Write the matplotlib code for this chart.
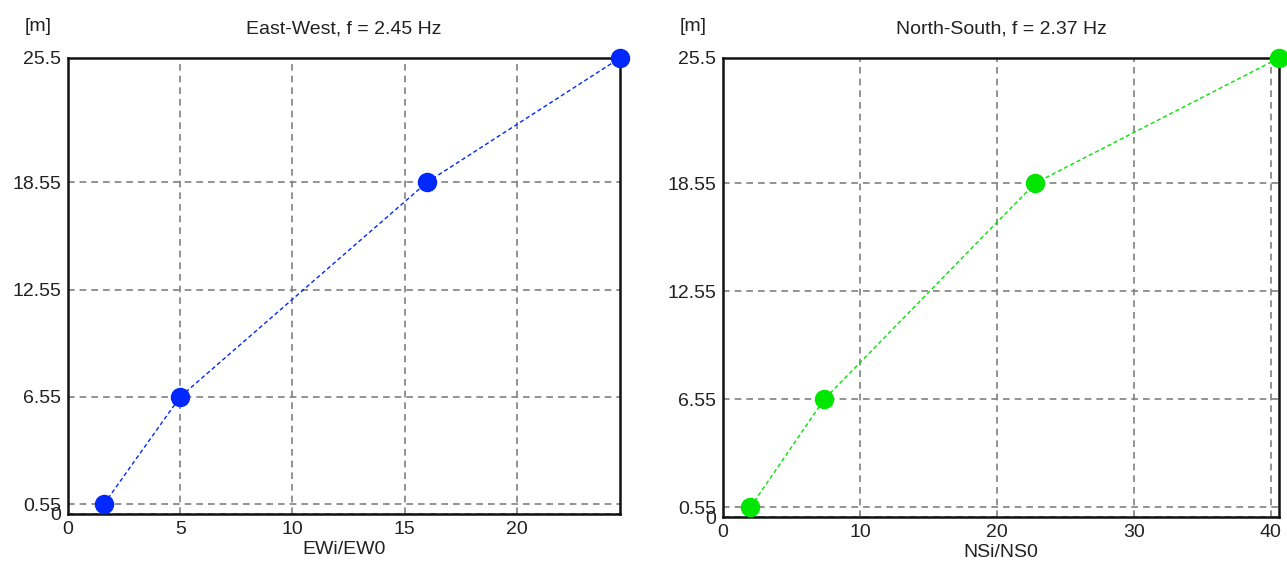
import matplotlib.pyplot as plt

plt.rcParams['font.family'] = ['Liberation Sans', 'DejaVu Sans']

heights = [0.55, 6.55, 18.55, 25.5]
ytick_vals = [0, 0.55, 6.55, 12.55, 18.55, 25.5]
ytick_labels = ['0', '0.55', '6.55', '12.55', '18.55', '25.5']

ew_ratio = [1.6, 5.0, 16.0, 24.6]
ns_ratio = [2.0, 7.4, 22.8, 40.6]

ew_ticks = [0, 5, 10, 15, 20]
ns_ticks = [0, 10, 20, 30, 40]

fig = plt.figure(figsize=(12.87, 5.67), dpi=100)
ax1 = fig.add_axes([68 / 1287, 1 - 514 / 567, 552 / 1287, 456 / 567])
ax2 = fig.add_axes([723 / 1287, 1 - 517 / 567, 556 / 1287, 459 / 567])

panels = [
    (ax1, ew_ratio, ew_ticks, '#0028ff', 'East-West, f = 2.45 Hz', 'EWi/EW0'),
    (ax2, ns_ratio, ns_ticks, '#00e600', 'North-South, f = 2.37 Hz', 'NSi/NS0'),
]

for ax, xs, xt, col, title, xlabel in panels:
    ax.plot(xs, heights, linestyle='--', color=col, linewidth=1.0, dashes=(3, 2),
            marker='o', markersize=13, markerfacecolor=col, markeredgecolor=col,
            clip_on=False, zorder=5)
    ax.set_xlim(0, max(xs))
    ax.set_ylim(0, 25.5)
    ax.set_xticks(xt)
    ax.set_yticks(ytick_vals)
    ax.set_yticklabels(ytick_labels)
    ax.grid(True, color='#808080', linestyle=(0, (4, 3)), linewidth=1.2)
    ax.tick_params(length=0, labelsize=14, pad=5, colors='#222222')
    for s in ax.spines.values():
        s.set_linewidth(1.8)
        s.set_color('#111111')
    ax.set_title(title, fontsize=14, pad=18, color='#222222')
    ax.set_xlabel(xlabel, fontsize=14, labelpad=2, color='#222222')
    ax.text(-0.03, 1.05, '[m]', transform=ax.transAxes, ha='right', va='bottom',
            fontsize=14, color='#222222')

fig.savefig('out.png', dpi=100)
